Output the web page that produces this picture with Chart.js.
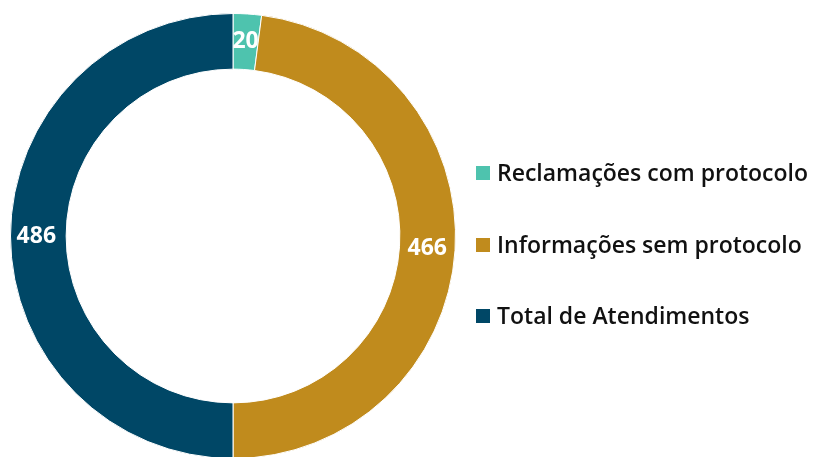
<!DOCTYPE html>
<html>
<head>
<meta charset="utf-8">
<script src="https://cdn.jsdelivr.net/npm/chart.js@4.4.0/dist/chart.umd.min.js"></script>
<style>
  html, body { margin: 0; padding: 0; background: #fff; overflow: hidden; }
  #wrap { width: 814px; height: 457px; overflow: hidden; }
</style>
</head>
<body>
<div id="wrap"><canvas id="chart" width="814" height="462"></canvas></div>
<script>
const labels = ["Reclamações com protocolo", "Informações sem protocolo", "Total de Atendimentos"];
const values = [20, 466, 486];
const colors = ["#4EC3AE", "#C08B1D", "#004766"];

const FONT = "'Open Sans', 'Noto Sans', sans-serif";

// white numbers drawn in the middle of each ring segment
const valueLabels = {
  id: "valueLabels",
  afterDatasetsDraw(chart) {
    const ctx = chart.ctx;
    const meta = chart.getDatasetMeta(0);
    ctx.save();
    ctx.fillStyle = "#fff";
    ctx.font = "bold 23px " + FONT;
    ctx.textAlign = "center";
    ctx.textBaseline = "middle";
    meta.data.forEach((arc, i) => {
      const p = arc.tooltipPosition();
      ctx.fillText(String(values[i]), p.x - (i == 2 ? 2 : 0), p.y);
    });
    ctx.restore();
  },
};

// legend on the right, drawn by hand
const sideLegend = {
  id: "sideLegend",
  afterDraw(chart) {
    const ctx = chart.ctx;
    const ys = [173, 245, 316];
    ctx.save();
    ctx.textBaseline = "middle";
    ctx.textAlign = "left";
    ctx.font = "600 23px " + FONT;
    labels.forEach((t, i) => {
      ctx.fillStyle = colors[i];
      ctx.fillRect(476, ys[i] - 7, 14, 14);
      ctx.fillStyle = "#111";
      ctx.fillText(t, 497, ys[i] + 1);
    });
    ctx.restore();
  },
};

new Chart(document.getElementById("chart"), {
  type: "doughnut",
  data: {
    labels: labels,
    datasets: [
      {
        data: values,
        backgroundColor: colors,
        borderColor: "#fff",
        borderWidth: 1,
      },
    ],
  },
  options: {
    responsive: false,
    animation: false,
    cutout: "75%",
    layout: {
      padding: { left: 10, top: 13, right: 358, bottom: 3 },
    },
    plugins: {
      legend: { display: false },
      tooltip: { enabled: false },
    },
  },
  plugins: [valueLabels, sideLegend],
});
</script>
</body>
</html>
